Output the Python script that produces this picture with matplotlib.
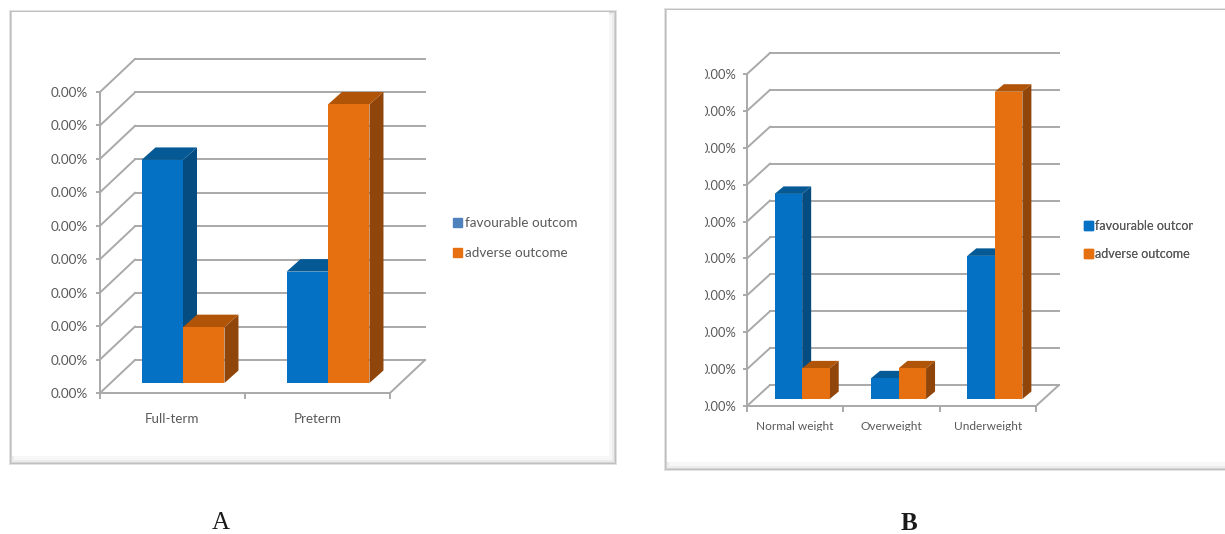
import matplotlib
matplotlib.use('Agg')
import matplotlib.pyplot as plt
from matplotlib.patches import Patch, Rectangle

W, H = 1225, 534

term_labels = ['Full-term', 'Preterm']
term_favourable = [66.7, 33.3]
term_adverse = [16.7, 83.3]

weight_labels = ['Normal weight', 'Overweight', 'Underweight']
weight_favourable = [55.6, 5.6, 38.8]
weight_adverse = [8.3, 8.3, 83.3]

y_ticks = [0, 10, 20, 30, 40, 50, 60, 70, 80, 90]
y_tick_label = '0.00%'
series_names = ['favourable outcome', 'adverse outcome']

BLUE = ('#0571c5', '#055a96', '#054c80')
ORANGE = ('#e66f10', '#b05408', '#90450a')
GRID = '#a9a9a9'
TEXT = '#595959'
FONT = 'Lato'


def draw_panel(page, x0, y0, x1, y1):
    # bevelled frame: dark outer edge, then a soft band inside bottom and right
    page.add_patch(Rectangle((x0 - 1, y0 - 1), x1 - x0 + 2, y1 - y0 + 2,
                             fc='#e2e2e2', ec='none'))
    steps = [(0, '#c0c0c0'), (1, '#d4d4d4'), (2, '#ececec'), (4, '#f7f7f7')]
    for inset, colour in steps:
        page.add_patch(Rectangle((x0 + inset, y0 + inset),
                                 x1 - x0 - 2 * inset, y1 - y0 - 2 * inset,
                                 fc=colour, ec='none'))
    page.add_patch(Rectangle((x0 + 2, y0 + 1), x1 - x0 - 9, y1 - y0 - 9,
                             fc='white', ec='none'))


def draw_box(ax, x, width, base, value, colours, depth_x, depth_y):
    front, top, side = colours
    right = x + width
    peak = base + value
    ax.fill([right, right + depth_x, right + depth_x, right],
            [base, base + depth_y, peak + depth_y, peak],
            color=side, lw=0, zorder=3)
    ax.fill([x, x + depth_x, right + depth_x, right],
            [peak, peak + depth_y, peak + depth_y, peak],
            color=top, lw=0, zorder=3)
    ax.bar(x, value, width, bottom=base, align='edge', color=front, lw=0, zorder=3)


def draw_chart(fig, box, categories, favourable, adverse, wall, bar_depth,
               lift, shift, sizes, label_pads, clip_rect):
    left, top, right, bottom = box
    ax = fig.add_axes([left / W, 1 - bottom / H, (right - left) / W, (bottom - top) / H])
    ax.patch.set_alpha(0)
    n = len(categories)
    ax.set_xlim(0, n)
    ax.set_ylim(0, y_ticks[-1])

    # pixel sizes of the 3d offsets turned into data units
    per_cat = (right - left) / n
    per_val = (bottom - top) / y_ticks[-1]
    wall_x = wall[0] / per_cat
    wall_y = wall[1] / per_val

    for v in y_ticks:
        ax.plot([0, wall_x], [v, v + wall_y], color=GRID, lw=1.4, clip_on=False, zorder=1)
        ax.plot([wall_x, n + wall_x], [v + wall_y, v + wall_y], color=GRID, lw=1.4,
                clip_on=False, zorder=1)
    ax.plot([n, n + wall_x], [0, wall_y], color=GRID, lw=1.4, clip_on=False, zorder=1)

    width = 0.286
    base = lift / per_val
    for i in range(n):
        centre = i + 0.5 + shift / per_cat
        draw_box(ax, centre - width, width, base, favourable[i], BLUE,
                 bar_depth[0] / per_cat, bar_depth[1] / per_val)
        draw_box(ax, centre, width, base, adverse[i], ORANGE,
                 bar_depth[0] / per_cat, bar_depth[1] / per_val)

    for side in ['top', 'right']:
        ax.spines[side].set_visible(False)
    for side in ['left', 'bottom']:
        ax.spines[side].set_color(GRID)
        ax.spines[side].set_linewidth(1.4)

    ax.set_yticks(y_ticks)
    ax.set_yticklabels([y_tick_label] * len(y_ticks), fontsize=sizes[0], color=TEXT,
                       family=FONT)
    ax.tick_params(axis='y', length=3, color=GRID, width=1.4, pad=label_pads[0])
    ax.set_xticks(range(n + 1))
    ax.set_xticklabels([''] * (n + 1))
    ax.tick_params(axis='x', length=4, color=GRID, width=1.4)
    ax.set_xticks([i + 0.5 for i in range(n)], minor=True)
    ax.set_xticklabels(categories, minor=True, fontsize=sizes[1], color=TEXT, family=FONT)
    ax.tick_params(axis='x', which='minor', length=0, pad=label_pads[1])

    for label in ax.get_yticklabels() + ax.get_xticklabels(minor=True):
        label.set_clip_on(True)
        label.set_clip_path(clip_rect)
    return ax


def draw_legend(page, anchor, swatch, font_size, spacing, clip_rect):
    handles = [Patch(color=swatch), Patch(color=ORANGE[0])]
    legend = page.legend(handles, series_names, loc='center left', bbox_to_anchor=anchor,
                         bbox_transform=page.transData, frameon=False,
                         prop={'family': FONT, 'size': font_size},
                         handlelength=0.68, handleheight=0.68, handletextpad=0.22,
                         labelspacing=spacing, borderpad=0, borderaxespad=0,
                         labelcolor=TEXT)
    for text in legend.get_texts():
        text.set_clip_on(True)
        text.set_clip_path(clip_rect)
    page.add_artist(legend)


fig = plt.figure(figsize=(W / 100, H / 100), dpi=100)
page = fig.add_axes([0, 0, 1, 1])
page.set_xlim(0, W)
page.set_ylim(H, 0)
page.axis('off')

draw_panel(page, 10, 11, 616, 464)
draw_panel(page, 665, 9, 1240, 470)

# regions that cut off the text running past the chart area
clip_a = Rectangle((0, 0), 577, H, transform=page.transData)
clip_b_legend = Rectangle((0, 0), 1193, H, transform=page.transData)
clip_b_axis = Rectangle((705, 0), W - 705, 431, transform=page.transData)

draw_chart(fig, (100, 92, 390, 393), term_labels, term_favourable, term_adverse,
           (35, 33), (14, 12.5), 10, 10.5, (9.7, 9.6), (6, 14.5), clip_a)
draw_chart(fig, (747, 74, 1036, 406), weight_labels, weight_favourable, weight_adverse,
           (23, 21), (9, 7.5), 7, 7, (9.3, 8.6), (4.5, 11), clip_b_axis)

draw_legend(page, (453, 238), '#4f81bd', 9.7, 1.35, clip_a)
draw_legend(page, (1084, 240), '#0571c5', 9, 1.3, clip_b_legend)

page.text(221, 523, 'A', ha='center', va='center', fontsize=18, family='Liberation Serif',
          color='#1a1a1a')
page.text(909, 523, 'B', ha='center', va='center', fontsize=18, family='Liberation Serif',
          fontweight='bold', color='#1a1a1a')

fig.savefig('out.png', dpi=100)
